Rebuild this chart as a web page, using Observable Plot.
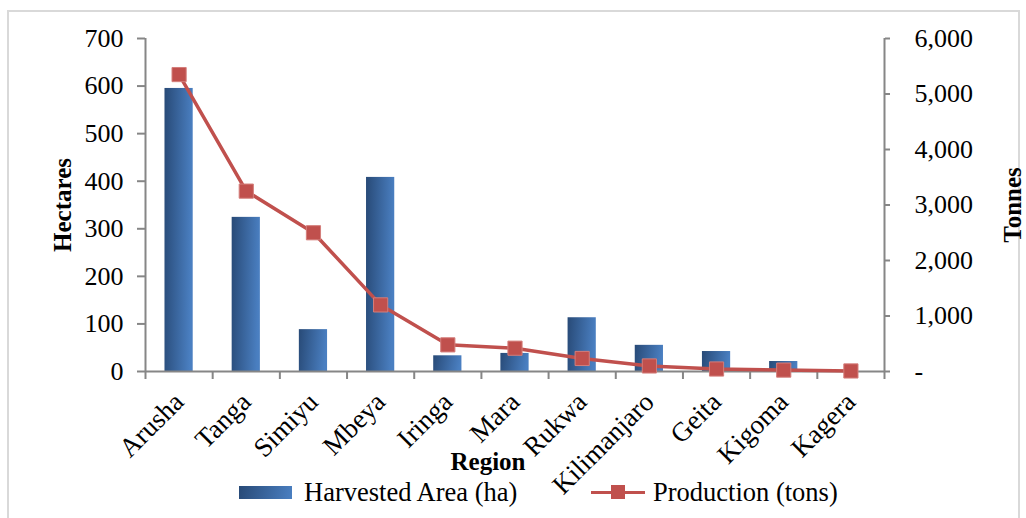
<!DOCTYPE html>
<html>
<head>
<meta charset="utf-8">
<script src="https://cdn.jsdelivr.net/npm/d3@7"></script>
<script src="https://cdn.jsdelivr.net/npm/@observablehq/plot@0.6"></script>
<style>
  html, body { margin: 0; padding: 0; background: #fff; }
  #wrap { position: relative; width: 1026px; height: 518px; overflow: hidden; font-family: "Liberation Serif", "Times New Roman", serif; }
  #border { position: absolute; left: 7px; top: 10px; width: 1013px; height: 520px; border: 2px solid #d9d9d9; box-sizing: border-box; }
  #chart { position: absolute; left: 0; top: 0; }
  #legend { position: absolute; top: 477px; left: 0; width: 1026px; height: 30px; font-size: 26.5px; color: #000; }
  .item { position: absolute; top: 0; display: flex; align-items: center; height: 30px; white-space: nowrap; }
  .sw-bar { width: 53px; height: 13px; background: linear-gradient(100deg, #284a77, #4a7fc1); margin-right: 12px; }
  .sw-line { position: relative; width: 54px; height: 15px; margin-right: 8px; }
  .sw-line::before { content: ""; position: absolute; left: 0; right: 0; top: 6px; height: 3px; background: #c0504d; }
  .sw-line::after { content: ""; position: absolute; left: 20px; top: 0; width: 14px; height: 14px; background: #c0504d; }
</style>
</head>
<body>
<div id="wrap">
  <div id="border"></div>
  <div id="chart"></div>
  <div id="legend"></div>
</div>
<script>
const regions = ["Arusha", "Tanga", "Simiyu", "Mbeya", "Iringa", "Mara", "Rukwa", "Kilimanjaro", "Geita", "Kigoma", "Kagera"];
const hectares = [595, 324, 88, 408, 33, 38, 113, 55, 42, 21, 0];
const tonnes = [5350, 3250, 2500, 1200, 480, 420, 235, 100, 45, 25, 10];
const hectareTicks = [0, 100, 200, 300, 400, 500, 600, 700];
const tonneTicks = [0, 1000, 2000, 3000, 4000, 5000, 6000];
const seriesNames = ["Harvested Area (ha)", "Production (tons)"];

const hMax = 700, tMax = 6000;
const toH = t => t * hMax / tMax;
const idx = regions.map((_, i) => i);
const data = regions.map((r, i) => ({i, region: r, ha: hectares[i], t: tonnes[i], tH: toH(tonnes[i])}));
const bounds = d3.range(regions.length + 1).map(i => i - 0.5);
const halfBar = 0.21;
const axisGray = "#868686";

const defs = () => {
  const ns = "http://www.w3.org/2000/svg";
  const d = document.createElementNS(ns, "defs");
  const g = document.createElementNS(ns, "linearGradient");
  g.setAttribute("id", "barGrad");
  g.setAttribute("x1", "0"); g.setAttribute("y1", "0");
  g.setAttribute("x2", "1"); g.setAttribute("y2", "0.12");
  [["0%", "#284a77"], ["100%", "#4a7fc1"]].forEach(([o, c]) => {
    const s = document.createElementNS(ns, "stop");
    s.setAttribute("offset", o); s.setAttribute("stop-color", c);
    g.appendChild(s);
  });
  d.appendChild(g);
  return d;
};

const chart = Plot.plot({
  width: 1026,
  height: 518,
  marginLeft: 145,
  marginRight: 142,
  marginTop: 38,
  marginBottom: 147,
  style: {fontFamily: "'Liberation Serif', 'Times New Roman', serif", fontSize: "26px", color: "#000", background: "transparent"},
  x: {domain: [-0.5, regions.length - 0.5]},
  y: {domain: [0, hMax]},
  marks: [
    defs,
    Plot.rectY(data, {x1: d => d.i - halfBar, x2: d => d.i + halfBar, y1: 0, y2: "ha", fill: "url(#barGrad)"}),
    Plot.ruleY([0], {stroke: axisGray, strokeWidth: 2}),
    Plot.ruleX([bounds[0], bounds[bounds.length - 1]], {y1: 0, y2: hMax, stroke: axisGray, strokeWidth: 2}),
    Plot.axisX({ticks: bounds, tickFormat: () => "", tickSize: 8, stroke: axisGray, strokeWidth: 2, label: null}),
    Plot.axisX({ticks: idx, tickFormat: i => regions[i], tickSize: 0, tickRotate: -45, tickPadding: 26, fontSize: 27, label: null, dx: 0}),
    Plot.axisY({ticks: hectareTicks, tickSize: 8, tickPadding: 14, stroke: axisGray, strokeWidth: 2, label: null}),
    Plot.axisY({anchor: "right", ticks: tonneTicks.map(toH), tickFormat: d => { const t = Math.round(d * tMax / hMax); return t === 0 ? "-" : d3.format(",")(t); }, tickSize: 5, tickPadding: 25, stroke: axisGray, strokeWidth: 2, label: null}),
    Plot.line(data, {x: "i", y: "tH", stroke: "#c0504d", strokeWidth: 3.5}),
    Plot.dot(data, {x: "i", y: "tH", symbol: "square", r: 8, fill: "#c0504d", stroke: "#d47e7b", strokeWidth: 1}),
    Plot.text(["Hectares"], {frameAnchor: "left", textAnchor: "middle", dx: -83, rotate: -90, fontWeight: "bold", fontSize: 25}),
    Plot.text(["Tonnes"], {frameAnchor: "right", textAnchor: "middle", dx: 128, rotate: -90, fontWeight: "bold", fontSize: 25}),
    Plot.text(["Region"], {frameAnchor: "bottom", dx: -27, dy: 98, fontWeight: "bold", fontSize: 25})
  ]
});
document.getElementById("chart").appendChild(chart);

const legend = document.getElementById("legend");
legend.innerHTML = `
  <div class="item" style="left:239px"><span class="sw-bar"></span><span>${seriesNames[0]}</span></div>
  <div class="item" style="left:591px"><span class="sw-line"></span><span>${seriesNames[1]}</span></div>`;
</script>
</body>
</html>
